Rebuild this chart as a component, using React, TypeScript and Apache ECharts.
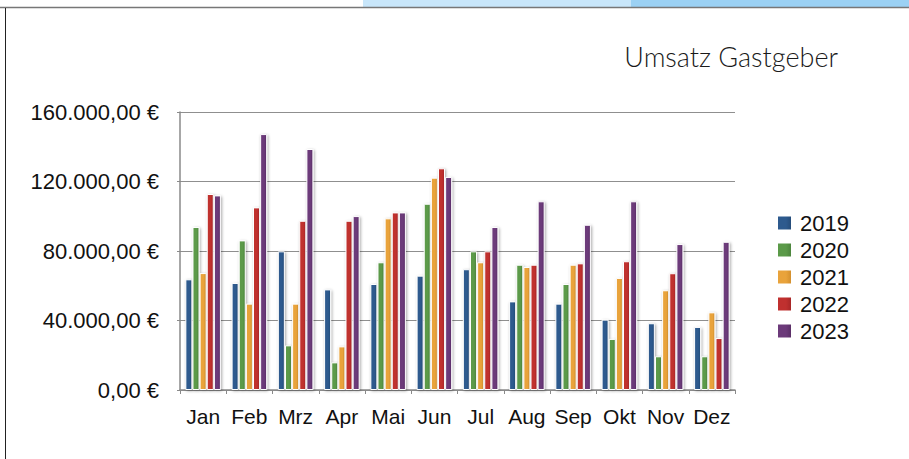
import React, { useEffect, useRef } from "react";
import * as echarts from "echarts";

const months = ["Jan", "Feb", "Mrz", "Apr", "Mai", "Jun", "Jul", "Aug", "Sep", "Okt", "Nov", "Dez"];
const years = ["2019", "2020", "2021", "2022", "2023"];
const s2019 = [63700, 61600, 79800, 57900, 61000, 65800, 69500, 51000, 49700, 40500, 38400, 36300];
const s2020 = [93800, 86100, 25700, 15900, 73500, 107200, 79800, 72100, 61000, 29400, 19400, 19400];
const s2021 = [67300, 49700, 49700, 25100, 98800, 122200, 73500, 70800, 72100, 64500, 57400, 44700];
const s2022 = [112800, 105100, 97400, 97400, 102200, 127600, 79800, 72100, 72900, 74100, 67200, 29900];
const s2023 = [112000, 147300, 138700, 100100, 102200, 122600, 93800, 108600, 95100, 108600, 84000, 85300];
const seriesValues = [s2019, s2020, s2021, s2022, s2023];
const colors = ["#2d5a8e", "#5b9a49", "#e9a33b", "#c0302f", "#6c3a7a"];
const darker = ["#244a76", "#4a813b", "#cf8c2c", "#a32526", "#572d63"];
const yTicks = [0, 40000, 80000, 120000, 160000];

const fmt = (v: number) => {
  const intPart = Math.round(v).toString().replace(/\B(?=(\d{3})+(?!\d))/g, ".");
  return intPart + ",00 €";
};

export default function App() {
  const ref = useRef<HTMLDivElement>(null);
  useEffect(() => {
    if (!ref.current) return;
    const chart = echarts.init(ref.current, null, { renderer: "svg" });
    const font = "'Liberation Sans', Arial, Helvetica, sans-serif";
    chart.setOption({
      animation: false,
      backgroundColor: "#ffffff",
      title: {
        text: "Umsatz Gastgeber",
        right: 66,
        top: 38,
        textStyle: { fontFamily: "Lato, 'Open Sans', sans-serif", fontWeight: 300, fontSize: 27, color: "#1a1a1a" },
      },
      legend: {
        orient: "vertical",
        left: 771,
        top: 207,
        itemWidth: 15,
        itemHeight: 15,
        itemGap: 5,
        icon: "rect",
        data: years,
        textStyle: { fontFamily: font, fontSize: 22, color: "#111", padding: [0, 0, 0, 3] },
      },
      graphic: [
        { type: "rect", shape: { x: 363, y: 0, width: 268, height: 7 }, style: { fill: "#c8e6fa" }, silent: true },
        { type: "rect", shape: { x: 631, y: 0, width: 278, height: 7 }, style: { fill: "#9bd1f4" }, silent: true },
        { type: "line", shape: { x1: 0, y1: 7.5, x2: 909, y2: 7.5 }, style: { stroke: "#777", lineWidth: 1.5 }, silent: true },
        { type: "line", shape: { x1: 5.5, y1: 8, x2: 5.5, y2: 459 }, style: { stroke: "#222", lineWidth: 1 }, silent: true },
      ],
      grid: { left: 180, right: 174, top: 112, bottom: 69, containLabel: false },
      xAxis: {
        type: "category",
        data: months,
        axisLine: { show: true, lineStyle: { color: "#8a8a8a", width: 1.5 } },
        axisTick: { show: true, alignWithLabel: false, length: 4, lineStyle: { color: "#8a8a8a" } },
        axisLabel: { fontFamily: font, fontSize: 21, color: "#111", margin: 16, interval: 0 },
      },
      yAxis: {
        type: "value",
        min: yTicks[0],
        max: yTicks[yTicks.length - 1],
        interval: 40000,
        axisLine: { show: true, lineStyle: { color: "#8a8a8a", width: 1.5 } },
        axisTick: { show: true, length: 3, lineStyle: { color: "#8a8a8a" } },
        splitLine: { show: true, lineStyle: { color: "#8f8f8f", width: 1.2 } },
        axisLabel: { fontFamily: font, fontSize: 22, color: "#111", margin: 21, formatter: (v: number) => fmt(v) },
      },
      series: years.map((y, i) => ({
        name: y,
        type: "bar",
        data: seriesValues[i],
        barWidth: 7,
        barGap: "2%",
        itemStyle: {
          color: new echarts.graphic.LinearGradient(0, 0, 1, 0, [
            { offset: 0, color: colors[i] },
            { offset: 0.6, color: colors[i] },
            { offset: 1, color: darker[i] },
          ]),
          borderColor: "#ffffff",
          borderWidth: 1,
          shadowColor: "rgba(0,0,0,0.35)",
          shadowBlur: 3,
          shadowOffsetX: 1,
          shadowOffsetY: 1,
        },
      })),
      color: colors,
    });
    return () => chart.dispose();
  }, []);
  return <div ref={ref} style={{ position: "absolute", left: 0, top: 0, width: 909, height: 459 }} />;
}
